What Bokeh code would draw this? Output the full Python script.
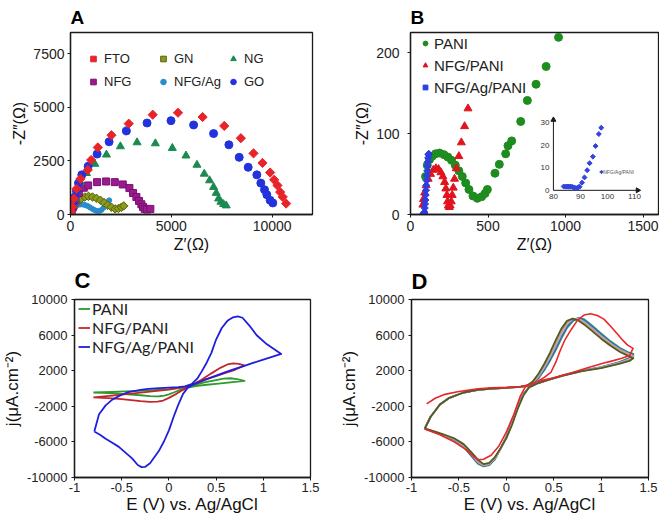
import math
from bokeh.plotting import figure
from bokeh.models import (Range1d, FixedTicker, CustomJSTickFormatter, Legend,
                          LegendItem)
from bokeh.layouts import column, row
from bokeh.embed import file_html
from bokeh.resources import INLINE
from bokeh.core.properties import value

# ---------------- Panel A : Nyquist plots ----------------
fto_x = [33, 83, 165, 297, 495, 858, 1023, 1353, 2030, 2888, 4076, 5330, 6551, 7623,
         8448, 9075, 9520, 9900, 10098, 10263, 10395, 10527, 10692]
fto_y = [123, 355, 740, 1200, 1666, 2083, 2546, 3132, 3703, 4243, 4660, 4752, 4552, 4135,
         3564, 2855, 2407, 1960, 1620, 1358, 1049, 818, 509]
go_x = [50, 132, 215, 297, 396, 561, 875, 1320, 1914, 2772, 3795, 4983, 6105, 7095,
        7854, 8366, 8811, 9240, 9438, 9620, 9735, 9900, 10032]
go_y = [200, 509, 818, 1096, 1466, 1852, 2253, 2824, 3395, 3904, 4274, 4382, 4182, 3780,
        3256, 2669, 2206, 1852, 1466, 1157, 926, 663, 540]
ng_x = [50, 132, 231, 330, 495, 792, 1205, 1782, 2475, 3300, 4208, 5049, 5726, 6270,
        6633, 6897, 7095, 7227, 7343, 7458, 7590, 7722]
ng_y = [170, 432, 740, 1126, 1512, 1929, 2361, 2793, 3179, 3364, 3317, 3101, 2747, 2315,
        1898, 1589, 1281, 1003, 741, 586, 478, 417]
nfg_x = [50, 132, 248, 413, 660, 875, 1320, 1766, 2195, 2591, 2921, 3102, 3267, 3399,
         3515, 3597, 3680, 3795, 3960]
nfg_y = [123, 355, 664, 1003, 1250, 1358, 1512, 1543, 1512, 1404, 1234, 1003, 818, 633,
         478, 355, 262, 231, 262]
gn_x = [50, 132, 248, 380, 528, 710, 891, 1089, 1287, 1485, 1667, 1848, 2030, 2211,
        2376, 2524, 2640]
gn_y = [123, 278, 478, 617, 741, 818, 849, 818, 756, 663, 555, 432, 339, 262,
        278, 339, 401]
nfgag_x = [16, 50, 83, 132, 198, 280, 380, 495, 611, 726, 842, 957, 1073, 1188, 1304,
           1420, 1530, 1640, 1750, 1850, 1920]
nfgag_y = [15, 108, 200, 293, 370, 417, 450, 470, 465, 440, 400, 340, 270, 210, 165,
           160, 210, 320, 450, 580, 660]
a_xticks = [0, 5000, 10000]
a_yticks = [0, 2500, 5000, 7500]

# ---------------- Panel B : Nyquist plots ----------------
pani_x = [97, 108, 123, 140, 162, 187, 216, 241, 265, 289, 312, 334, 356, 377, 403, 431,
          459, 481, 496, 545, 573, 614, 629, 653, 711, 754, 810, 875, 955]
pani_y = [47, 61, 68, 72, 75, 76, 74, 71, 67, 61, 54, 47, 39, 31, 23, 20,
          22, 26, 31, 51, 62, 75, 85, 91, 115, 141, 161, 183, 219]
nfgp_x = [80, 84, 91, 101, 114, 129, 147, 164, 181, 196, 209, 220, 228, 235, 239, 244,
          250, 256, 263, 269, 276, 284, 295, 312, 328, 349, 371]
nfgp_y = [12, 19, 27, 36, 44, 50, 55, 57, 56, 52, 47, 40, 32, 24, 16, 11,
          9, 11, 16, 24, 33, 44, 57, 72, 89, 109, 131]
nfgagp_x = [84, 86, 88, 90, 92, 94, 96, 98, 100, 102, 104, 106, 108, 110, 112, 114, 116, 118]
nfgagp_y = [1.5, 1.5, 1, 3, 8, 13, 18, 24, 30, 36, 42, 48, 54, 60, 65, 70, 74, 75]
inset_x = [83.8, 84.5, 85, 85.5, 86, 86.5, 87, 87.5, 88, 88.8, 89.3, 89.7, 90.6, 91.5,
           92.5, 93.4, 94.6, 95.6, 96.8, 97.7]
inset_y = [1.7, 1.6, 1.7, 1.6, 1.7, 1.6, 1.5, 1.3, 1.0, 1.0, 1.4, 1.6, 3.4, 5.7,
           8.9, 12.0, 14.9, 19.6, 24.9, 27.7]
inset_xticks = [80, 90, 100, 110]
inset_yticks = [0, 10, 20, 30]
b_xticks = [0, 500, 1000, 1500]
b_yticks = [0, 100, 200]

# ---------------- Panel C : CV curves ----------------
c_pani_x = [-0.8, -0.6, -0.4, -0.2, 0.0, 0.1, 0.2, 0.3, 0.4, 0.5, 0.58, 0.65, 0.72, 0.8,
            0.7, 0.6, 0.5, 0.4, 0.3, 0.2, 0.12, 0.05, 0.0, -0.05, -0.1, -0.15, -0.2,
            -0.3, -0.4, -0.5, -0.6, -0.7, -0.8]
c_pani_y = [-450, -380, -300, -200, -60, 60, 250, 500, 750, 950, 1100, 1150, 1050, 850,
            750, 640, 530, 420, 300, 100, -150, -450, -650, -800, -870, -880, -850,
            -760, -680, -610, -550, -500, -450]
c_nfgp_x = [-0.8, -0.6, -0.4, -0.2, 0.0, 0.15, 0.25, 0.35, 0.45, 0.55, 0.62, 0.68, 0.74, 0.8,
            0.7, 0.6, 0.5, 0.4, 0.3, 0.22, 0.15, 0.08, 0.0, -0.06, -0.12, -0.2, -0.3,
            -0.4, -0.5, -0.6, -0.7, -0.8]
c_nfgp_y = [-1000, -800, -580, -360, -120, 120, 450, 1000, 1700, 2350, 2700, 2820, 2760, 2600,
            2100, 1750, 1400, 1050, 650, 250, -150, -600, -1050, -1350, -1480, -1500, -1420,
            -1300, -1200, -1120, -1050, -1000]
c_nfgagp_x = [-0.79, -0.74, -0.67, -0.6, -0.5, -0.43, -0.3, -0.22, -0.1, 0.0, 0.1, 0.17, 0.24,
              0.3, 0.345, 0.4, 0.45, 0.5, 0.56, 0.62, 0.68, 0.73, 0.78, 0.85, 0.93, 1.035,
              1.12, 1.19,
              1.1, 1.0, 0.9, 0.8, 0.7, 0.6, 0.5, 0.4, 0.32, 0.25, 0.2, 0.15, 0.1, 0.06, 0.0,
              -0.05, -0.1, -0.16, -0.2, -0.25, -0.29, -0.33, -0.39, -0.46, -0.53, -0.6,
              -0.67, -0.73, -0.79]
c_nfgagp_y = [-4840, -2900, -1900, -1245, -700, -410, -150, -35, 40, 90, 150, 230, 500,
              1100, 1870, 2900, 4000, 5500, 6800, 7600, 8000, 8100, 7950, 7100, 5980, 4990,
              4370, 3880,
              3570, 3250, 2900, 2550, 2200, 1850, 1450, 1050, 700, 400, 100, -600, -1800,
              -2900, -4700, -5900, -6900, -7800, -8400, -8800, -8830, -8600, -7850, -7200,
              -6560, -6100, -5640, -5200, -4840]
cd_xticks = [-1, -0.5, 0, 0.5, 1, 1.5]
cd_yticks = [-10000, -6000, -2000, 2000, 6000, 10000]

# ---------------- Panel D : successive CV cycles ----------------
d_red_x = [-0.84, -0.75, -0.66, -0.5, -0.3, -0.15, 0.0, 0.15, 0.25, 0.33, 0.4, 0.47, 0.52,
           0.57, 0.62, 0.68, 0.75, 0.82, 0.89, 0.96, 1.03, 1.1, 1.17, 1.23, 1.28, 1.337,
           1.3, 1.22, 1.1, 1.03, 0.85, 0.69, 0.5, 0.33, 0.25, 0.2, 0.15, 0.08, 0.0, -0.08,
           -0.16, -0.24, -0.29, -0.34, -0.42, -0.55, -0.7, -0.86]
d_red_y = [-1720, -1100, -690, -330, -30, 90, 130, 220, 420, 800, 1250, 1800, 2900,
           4300, 5500, 6550, 7650, 8250, 8400, 8200, 7800, 7000, 6150, 5400, 4870, 4505,
           3700, 3400, 3050, 2860, 2300, 1760, 1200, 800, 450, 150, -800, -2900, -4900,
           -6500, -7500, -7950, -8000, -7700, -6900, -6000, -5200, -4550]
d_x = [-0.86, -0.8, -0.7, -0.6, -0.45, -0.3, -0.15, 0.0, 0.15, 0.22, 0.28, 0.34, 0.40,
       0.46, 0.52, 0.58, 0.64, 0.70, 0.76, 0.82, 0.9, 1.0, 1.1, 1.2, 1.28, 1.34,
       1.3, 1.2, 1.0, 0.8, 0.6, 0.45, 0.32, 0.24, 0.18, 0.12, 0.06, 0.0, -0.06, -0.12,
       -0.18, -0.24, -0.30, -0.36, -0.45, -0.55, -0.65, -0.75, -0.86]
d_green_y = [-4500, -3200, -1800, -1050, -450, -150, 0, 80, 180, 290, 560, 1150, 2050,
             3100, 4300, 5600, 6800, 7550, 7900, 7800, 7100, 6200, 5300, 4550, 4100, 3900,
             3450, 3000, 2400, 2010, 1490, 1000, 550, 110, -600, -1900, -3700, -5400,
             -6750, -7950, -8600, -8750, -8450, -7700, -6600, -5800, -5330, -4920, -4500]
d_blue_y = [-4500, -3200, -1800, -1050, -450, -150, 0, 80, 180, 300, 600, 1250, 2200,
            3300, 4550, 5850, 7000, 7700, 7900, 7650, 6950, 6050, 5150, 4450, 4000, 3750,
            3350, 2950, 2380, 2000, 1480, 1000, 550, 120, -650, -2000, -3800, -5450,
            -6750, -7900, -8550, -8700, -8350, -7600, -6500, -5750, -5300, -4900, -4500]
d_lav_y = [-4500, -3200, -1800, -1050, -450, -150, 0, 80, 180, 310, 650, 1350, 2350,
           3500, 4800, 6100, 7200, 7800, 7850, 7500, 6800, 5900, 5050, 4350, 3950, 3650,
           3300, 2900, 2360, 1990, 1470, 1000, 550, 130, -700, -2100, -3900, -5500,
           -6750, -7850, -8500, -8650, -8250, -7500, -6450, -5700, -5280, -4890, -4500]
d_orange_y = [-4500, -3200, -1800, -1050, -450, -150, 0, 80, 180, 330, 720, 1500, 2550,
              3750, 5100, 6400, 7400, 7850, 7750, 7350, 6650, 5750, 4950, 4250, 3850, 3550,
              3200, 2850, 2330, 1970, 1460, 1000, 550, 140, -750, -2200, -4000, -5550,
              -6750, -7800, -8450, -8600, -8150, -7400, -6350, -5650, -5250, -4870, -4500]
d_olive_y = [-4500, -3200, -1800, -1050, -450, -150, 0, 80, 180, 350, 800, 1650, 2750,
             4000, 5400, 6700, 7600, 7850, 7650, 7200, 6500, 5600, 4800, 4100, 3700, 3400,
             3100, 2800, 2300, 1950, 1450, 1000, 550, 150, -800, -2300, -4100, -5600,
             -6700, -7700, -8350, -8500, -8000, -7250, -6250, -5600, -5200, -4850, -4500]

FONT = "Liberation Sans"
INK = "#1a1a1a"


def make_fig(title, w, h, xr, yr, bl, br, bt, bb, tsize, tstand, tick_size):
    p = figure(title=title, width=w, height=h, x_range=Range1d(*xr), y_range=Range1d(*yr),
               output_backend="svg", toolbar_location=None,
               min_border_left=bl, min_border_right=br, min_border_top=bt,
               min_border_bottom=bb)
    p.title.text_font = FONT
    p.title.text_font_size = tsize
    p.title.text_font_style = "bold"
    p.title.text_color = "#000000"
    p.title.align = "left"
    p.title.offset = 0
    p.title.standoff = tstand
    p.xgrid.grid_line_color = None
    p.ygrid.grid_line_color = None
    p.outline_line_color = INK
    p.outline_line_width = 1.3
    p.background_fill_color = "white"
    p.border_fill_color = "white"
    for ax in (p.xaxis[0], p.yaxis[0]):
        ax.axis_line_color = INK
        ax.axis_line_width = 1.3
        ax.major_tick_line_color = INK
        ax.major_tick_in = 0
        ax.major_tick_out = 3
        ax.minor_tick_line_color = None
        ax.major_label_text_font = FONT
        ax.major_label_text_font_size = tick_size
        ax.major_label_text_color = "#222222"
        ax.major_label_standoff = 3
        ax.axis_label_text_font = FONT
        ax.axis_label_text_font_style = "normal"
        ax.axis_label_text_color = "#111111"
        ax.axis_label_standoff = 2
        ax.formatter = CustomJSTickFormatter(code="return tick.toString();")
    return p


# ======== Panel A ========
pA = make_fig("A", 330, 258, (0, 12000), (0, 8500), 70, 18, 31, 44, "19px", 9, "14px")
pA.xaxis.ticker = FixedTicker(ticks=a_xticks)
pA.yaxis.ticker = FixedTicker(ticks=a_yticks)
pA.xaxis.axis_label = "Z\u2032(\u03a9)"
pA.yaxis.axis_label = "-Z\u2033(\u03a9)"
pA.xaxis.axis_label_text_font_size = "16px"
pA.yaxis.axis_label_text_font_size = "16px"

rA_nfgag = pA.scatter(nfgag_x, nfgag_y, marker="circle", size=5, color="#2a8ccc")
rA_gn = pA.scatter(gn_x, gn_y, marker="square", angle=math.pi / 4, size=6,
                   fill_color="#8c9a1c", line_color="#56620c")
rA_nfg = pA.scatter(nfg_x, nfg_y, marker="square", size=7, fill_color="#9a1a90",
                    line_color="#7a1070")
rA_ng = pA.scatter(ng_x, ng_y, marker="triangle", size=8, color="#1a8a50")
rA_go = pA.scatter(go_x, go_y, marker="circle", size=8, color="#2233dd")
rA_fto = pA.scatter(fto_x, fto_y, marker="square", angle=math.pi / 4, size=6.5,
                    color="#e8242a")

legA = Legend(items=[LegendItem(label="FTO", renderers=[rA_fto]),
                     LegendItem(label="GN", renderers=[rA_gn]),
                     LegendItem(label="NG", renderers=[rA_ng]),
                     LegendItem(label="NFG", renderers=[rA_nfg]),
                     LegendItem(label="NFG/Ag", renderers=[rA_nfgag]),
                     LegendItem(label="GO", renderers=[rA_go])],
              location=(16, 123), orientation="horizontal", ncols=3,
              background_fill_alpha=0, border_line_color=None, margin=0, padding=0,
              glyph_width=14, glyph_height=19, label_width=48, label_standoff=4,
              spacing=4, label_text_font=FONT, label_text_font_size="13px",
              label_text_color="#222222")
pA.add_layout(legA)

# ======== Panel B ========
pB = make_fig("B", 329, 258, (0, 1600), (0, 225), 80, 1, 31, 39, "19px", 9, "14px")
pB.xaxis.ticker = FixedTicker(ticks=b_xticks)
pB.yaxis.ticker = FixedTicker(ticks=b_yticks)
pB.xaxis.axis_label = "Z\u2032(\u03a9)"
pB.yaxis.axis_label = "-Z\u2033(\u03a9)"
pB.xaxis.axis_label_text_font_size = "16px"
pB.yaxis.axis_label_text_font_size = "16px"
pB.yaxis.major_label_standoff = 8

rB_pani = pB.scatter(pani_x, pani_y, marker="circle", size=8, color="#1f8c1f")
rB_nfgp = pB.scatter(nfgp_x, nfgp_y, marker="triangle", size=8, color="#e0141e")
rB_nfgagp = pB.scatter(nfgagp_x, nfgagp_y, marker="square", angle=math.pi / 4, size=5,
                       color="#2d3ee0")

legB = Legend(items=[LegendItem(label="PANI", renderers=[rB_pani]),
                     LegendItem(label="NFG/PANI", renderers=[rB_nfgp]),
                     LegendItem(label="NFG/Ag/PANI", renderers=[rB_nfgagp])],
              location=(9, 116), background_fill_alpha=0, border_line_color=None,
              margin=0, padding=0, glyph_width=12, glyph_height=22, spacing=0,
              label_standoff=3, label_text_font=FONT, label_text_font_size="15px",
              label_text_color="#222222")
pB.add_layout(legB)

# inset of panel B (own coordinate system mapped into the frame)
ins = pB.subplot(x_source=Range1d(80, 110), y_source=Range1d(0, 30),
                 x_target=Range1d(922, 1445), y_target=Range1d(29.9, 113.7))
ins.segment(x0=[inset_xticks[0], inset_xticks[0]], y0=[inset_yticks[0], inset_yticks[0]],
            x1=[inset_xticks[-1] + 1.2, inset_xticks[0]],
            y1=[inset_yticks[0], inset_yticks[-1] + 1.2], line_color=INK, line_width=1)
ins.scatter(x=[inset_xticks[-1] + 1.2, inset_xticks[0]],
            y=[inset_yticks[0], inset_yticks[-1] + 1.2],
            marker="triangle", angle=[-math.pi / 2, 0], size=5, color=INK)
ins.text(x=inset_xticks, y=[inset_yticks[0]] * len(inset_xticks),
         text=[str(t) for t in inset_xticks], text_align="center", text_baseline="top",
         y_offset=4, text_font=value(FONT), text_font_size="8px", text_color="#333333")
ins.text(x=[inset_xticks[0]] * len(inset_yticks), y=inset_yticks,
         text=[str(t) for t in inset_yticks], text_align="right", text_baseline="middle",
         x_offset=-4, text_font=value(FONT), text_font_size="8px", text_color="#333333")
ins.scatter(inset_x, inset_y, marker="square", angle=math.pi / 4, size=3.5, color="#3344dd")
ins.scatter(x=[97.8], y=[8.1], marker="square", angle=math.pi / 4, size=2.5, color="#3344dd")
ins.text(x=[98.4], y=[8.1], text=["NFG/Ag/PANI"], text_baseline="middle",
         text_font=value(FONT), text_font_size="5px", text_color="#555555")

# ======== Panels C and D ========
pC = make_fig("C", 330, 260, (-1, 1.5), (-10000, 10000), 72, 20, 38, 40, "22px", 14, "13px")
pD = make_fig("D", 329, 260, (-1, 1.5), (-10000, 10000), 81, 11, 37, 41, "22px", 12, "13px")
for p in (pC, pD):
    p.xaxis.ticker = FixedTicker(ticks=cd_xticks)
    p.yaxis.ticker = FixedTicker(ticks=cd_yticks)
    p.xaxis.axis_label = "E (V) vs. Ag/AgCl"
    p.yaxis.axis_label = "j(\u03bcA.cm\u207b\u00b2)"
    p.xaxis.axis_label_text_font_size = "17px"
    p.yaxis.axis_label_text_font_size = "17px"
    p.xaxis.major_label_standoff = 2
    p.xaxis.axis_label_standoff = 0
    p.yaxis.major_label_standoff = 4

rC_pani = pC.line(c_pani_x, c_pani_y, line_color="#2e9a2e", line_width=1.8, line_join="round")
rC_nfgp = pC.line(c_nfgp_x, c_nfgp_y, line_color="#c0282d", line_width=1.8, line_join="round")
rC_nfgagp = pC.line(c_nfgagp_x, c_nfgagp_y, line_color="#1f1fdd", line_width=1.8,
                    line_join="round")
legC = Legend(items=[LegendItem(label="PANI", renderers=[rC_pani]),
                     LegendItem(label="NFG/PANI", renderers=[rC_nfgp]),
                     LegendItem(label="NFG/Ag/PANI", renderers=[rC_nfgagp])],
              location=(4, 121), background_fill_alpha=0, border_line_color=None,
              margin=0, padding=0, glyph_width=12, glyph_height=19, spacing=0,
              label_standoff=2, label_text_font="Lato", label_text_font_size="16px",
              label_text_color="#222222")
pC.add_layout(legC)

for ys, col in ((d_green_y, "#2f8f6f"), (d_blue_y, "#4060b0"), (d_lav_y, "#a9a9e6"),
                (d_orange_y, "#d4a060"), (d_olive_y, "#4f5b2a")):
    pD.line(d_x, ys, line_color=col, line_width=1.8, line_join="round")
pD.line(d_red_x, d_red_y, line_color="#e8262b", line_width=1.6, line_join="round")

layout = column(row(pA, pB), row(pC, pD))
open("out.html", "w").write(file_html(layout, INLINE))
